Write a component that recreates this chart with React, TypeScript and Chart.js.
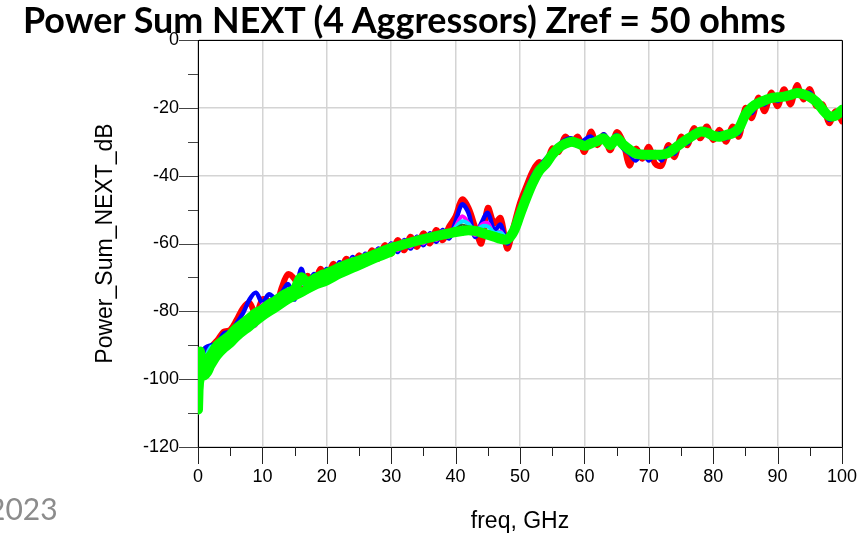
import React, { useEffect, useLayoutEffect, useRef } from "react";
import { Chart, registerables } from "chart.js";

Chart.register(...registerables);

const titleText = "Power Sum NEXT (4 Aggressors) Zref = 50 ohms";
const xTitle = "freq, GHz";
const yTitle = "Power_Sum_NEXT_dB";
const footerText = "2023";

const xMajorTicks = [0, 10, 20, 30, 40, 50, 60, 70, 80, 90, 100];
const xMinorTicks = [5, 15, 25, 35, 45, 55, 65, 75, 85, 95];
const yMajorTicks = [-120, -100, -80, -60, -40, -20, 0];
const yMinorTicks = [-110, -90, -70, -50, -30, -10];

const freq = [
  0, 0.3, 0.6,
  1, 2, 3, 4, 5, 6, 7, 8, 9, 10,
  11, 12, 13, 14, 15, 16, 17, 18, 19, 20,
  21, 22, 23, 24, 25, 26, 27, 28, 29, 30,
  31, 32, 33, 34, 35, 36, 37, 38, 39, 40,
  41, 42, 43, 44, 45, 46, 47, 48, 49, 50,
  51, 52, 53, 54, 55, 56, 57, 58, 59, 60,
  61, 62, 63, 64, 65, 66, 67, 68, 69, 70,
  71, 72, 73, 74, 75, 76, 77, 78, 79, 80,
  81, 82, 83, 84, 85, 86, 87, 88, 89, 90,
  91, 92, 93, 94, 95, 96, 97, 98, 99, 100,
];

const greenDb = [
  -109, -92, -97,
  -95, -93, -90, -88.5, -87, -85, -83.5, -82, -80.5, -79.5,
  -78, -77, -75.5, -74.5, -73.5, -70, -71.5, -70.5, -69.5, -68.8,
  -68, -67, -66.3, -65.6, -65, -64.3, -63.6, -62.8, -62, -61.3,
  -60.8, -60.2, -59.7, -59.2, -58.7, -58.3, -57.8, -57.4, -57, -56.6,
  -56.3, -56.1, -56.3, -56.8, -57.4, -58, -58.6, -58.8, -56.5, -51.5,
  -46.5, -42, -38.5, -36.5, -33.8, -31.8, -30.6, -30, -30.5, -31.2,
  -30.5, -29.8, -29, -31, -29, -30.8, -32.3, -33.5, -33.8, -33.8,
  -33.8, -33.8, -33.3, -32, -30.5, -29.2, -28, -27, -27.3, -28.2,
  -28.5, -28, -27.5, -26, -22, -19.8, -18.6, -17.8, -17.1, -16.9,
  -16.7, -16.2, -15.6, -16, -16.8, -18.2, -20.5, -22.4, -22.3, -20.6,
];

const green2Freq = [0, 0.5, 1, 1.5, 2, 3, 4, 5, 6, 8, 10, 12, 14, 16, 18, 20, 22, 25, 28, 30];
const green2Db = [-104, -99, -99, -98, -96, -93, -91, -89.5, -87.5, -84.5, -81.5, -79, -76.5, -74.5, -72.5, -71, -69, -66.5, -64, -62.5];

const redDb = [
  -100, -94, -93,
  -93, -90.5, -88.5, -86, -85.5, -82.5, -79, -77.5, -81, -76.5,
  -77, -79, -73, -69, -70.5, -74, -69.5, -72.5, -67.5, -70.5,
  -66, -68.5, -64.5, -67, -63.5, -66, -62, -64.5, -60.5, -63,
  -59, -62, -58, -61, -57, -60, -56, -59, -55, -52,
  -47, -49.5, -55, -60, -49.5, -54, -52.5, -61.5, -55, -48,
  -43, -38.5, -36, -37, -32, -33, -28.5, -30.5, -28.5, -33,
  -27, -31, -28, -32.5, -27.2, -30, -37, -32, -35, -31.5,
  -36.5, -37, -31, -34.5, -28.5, -31, -26, -29, -25.5, -29.5,
  -26.5, -30, -25.5, -28.5, -20, -23, -17, -21, -15.5, -19.5,
  -14.5, -19, -13.3, -17.5, -14.5, -19.5, -19, -24.5, -21, -24,
];

const blueDb = [
  -97, -93, -95,
  -91, -90, -89.5, -86.5, -86, -83.5, -80.5, -76.5, -74.5, -77.5,
  -75, -76, -74.5, -72, -76.5, -67.5, -72.5, -69, -71, -67.5,
  -69.5, -65.5, -68, -64, -66.5, -63, -65, -61.5, -63.5, -60,
  -62.5, -59, -61.5, -58, -60.5, -57, -59.5, -56, -58.5, -53.5,
  -48.5, -51, -58, -54, -51, -56, -54.5, -60, -56, -49.5,
  -44.5, -40, -37.5, -35, -33.5, -31, -29.5, -29, -31, -29.5,
  -28.5, -30.5, -27.8, -30, -28, -32, -33.5, -35.5, -33, -35.5,
  -33, -35.5, -32, -33.5, -29.5, -30.5, -27, -27.5, -26.5, -29,
  -27.5, -29, -26.5, -27.5, -21, -21.5, -18, -19, -16.5, -18,
  -16, -17, -15, -16.5, -15.5, -19, -20.5, -23.5, -22.5, -22,
];

const magentaDb = [
  -98, -94, -96,
  -94, -92, -89, -89, -86, -84.5, -84, -84.5, -84, -78,
  -79.5, -76, -77, -73.5, -75, -71.5, -73, -69.5, -71, -68,
  -69.5, -66, -67.5, -64.5, -66.2, -63.3, -65, -61.8, -63.2, -60.2,
  -62, -59.2, -61, -58.2, -60, -57.3, -59, -56.4, -58, -55,
  -52, -54, -57.5, -54.5, -54, -57.5, -56.5, -59.5, -56.5, -50.5,
  -45.5, -41, -38.5, -35.5, -33.2, -31.5, -30, -30.2, -30, -30.8,
  -29.5, -30.2, -28.5, -31.5, -28.5, -31.5, -32.8, -34.5, -33, -34.8,
  -33.2, -34.5, -32.5, -33, -30, -29.8, -27.5, -27.8, -26.8, -28.8,
  -28, -28.6, -27, -27, -21.5, -21, -18.2, -18.5, -16.8, -17.5,
  -16.2, -16.8, -15.2, -16.6, -16.2, -18.8, -20.8, -23, -22.6, -21.5,
];

const cyanDb = [
  -96, -93, -95.5,
  -94.5, -90.5, -90.5, -87.5, -87.5, -84, -84.5, -81, -81.5, -78.5,
  -79, -76, -76.5, -73.5, -74.5, -71.5, -72.5, -69.5, -70.5, -68,
  -68.8, -66.2, -67, -64.8, -65.8, -63.5, -64.4, -62, -62.8, -60.5,
  -61.6, -59.4, -60.5, -58.4, -59.5, -57.5, -58.6, -56.6, -57.8, -55.3,
  -53.5, -54.2, -56.5, -55, -55, -56.8, -56.8, -58.5, -55.8, -51,
  -46, -41.5, -38.8, -35.8, -33.6, -31.8, -30.4, -29.6, -30.2, -30.6,
  -30, -29.5, -28.6, -30.5, -28.6, -30.4, -32, -33.2, -33.5, -34.2,
  -33.5, -34, -33, -32.4, -30.2, -29.4, -27.8, -27.2, -27, -28.5,
  -28.2, -28.3, -27.2, -26.5, -21.8, -20.5, -18.4, -18.2, -17, -17.2,
  -16.5, -16.5, -15.4, -16.3, -16.5, -18.5, -20.7, -22.7, -22.5, -21,
];

const oliveFreq = [36, 38, 40, 41, 42, 43, 44, 46, 48];
const oliveDb = [-58, -56.5, -55.5, -54.5, -55, -55.5, -56, -57, -58];

function pts(xs: number[], ys: number[]) {
  return xs.map((x, i) => ({ x, y: ys[i] }));
}

const framePlugin = {
  id: "frameAndMinorTicks",
  beforeDatasetsDraw(chart: any) {
    const { ctx, chartArea, scales } = chart;
    const { left, right, top, bottom } = chartArea;
    const xs = scales.x;
    const ys = scales.y;
    ctx.save();
    ctx.strokeStyle = "#000";
    ctx.lineWidth = 1;
    ctx.beginPath();
    ctx.moveTo(left, Math.round(top) + 0.5);
    ctx.lineTo(Math.round(right) + 0.5, Math.round(top) + 0.5);
    ctx.lineTo(Math.round(right) + 0.5, bottom);
    ctx.stroke();
    ctx.strokeStyle = "#222";
    const line = (x1: number, y1: number, x2: number, y2: number) => {
      ctx.beginPath();
      ctx.moveTo(x1, y1);
      ctx.lineTo(x2, y2);
      ctx.stroke();
    };
    for (const v of xMajorTicks) {
      const px = Math.round(xs.getPixelForValue(v)) + 0.5;
      line(px, bottom, px, bottom + 17);
    }
    for (const v of xMinorTicks) {
      const px = Math.round(xs.getPixelForValue(v)) + 0.5;
      line(px, bottom, px, bottom + 9);
    }
    ctx.strokeStyle = "#444";
    for (const v of yMajorTicks) {
      const py = Math.round(ys.getPixelForValue(v)) + 0.5;
      line(left - 19, py, left, py);
    }
    for (const v of yMinorTicks) {
      const py = Math.round(ys.getPixelForValue(v)) + 0.5;
      line(left - 10, py, left, py);
    }
    ctx.restore();
  },
};

export default function App() {
  const canvasRef = useRef<HTMLCanvasElement | null>(null);
  const titleRef = useRef<HTMLDivElement | null>(null);

  useLayoutEffect(() => {
    const el = titleRef.current;
    if (!el) return;
    const base = 34;
    el.style.fontSize = base + "px";
    const w = el.getBoundingClientRect().width;
    const fs = (base * 763) / w;
    el.style.fontSize = fs + "px";
    el.style.top = 33 - 0.987 * fs + "px";
  }, []);

  useEffect(() => {
    const canvas = canvasRef.current;
    if (!canvas) return;
    const tickFont = { family: "'Liberation Sans', Arial, sans-serif", size: 18 };
    const titleFont = { family: "'Liberation Sans', Arial, sans-serif", size: 23 };
    const ds = (label: string, xs: number[], ys: number[], color: string, width: number) => ({
      label,
      data: pts(xs, ys),
      borderColor: color,
      backgroundColor: color,
      borderWidth: width,
      pointRadius: 0,
      fill: false,
    });
    const chart = new Chart(canvas, {
      type: "line",
      data: {
        datasets: [
          ds("green", freq, greenDb, "#00ff00", 10),
          ds("green2", green2Freq, green2Db, "#00ff00", 9),
          ds("olive", oliveFreq, oliveDb, "#2e6b2e", 2),
          ds("cyan", freq, cyanDb, "#00e5ff", 4),
          ds("magenta", freq, magentaDb, "#ff00ff", 4),
          ds("blue", freq, blueDb, "#0000ff", 4.5),
          ds("red", freq, redDb, "#ff0000", 6),
        ],
      },
      options: {
        animation: false,
        responsive: false,
        maintainAspectRatio: false,
        layout: { padding: { top: 40, right: 26, left: 0, bottom: 0 } },
        plugins: {
          legend: { display: false },
          tooltip: { enabled: false },
          title: { display: false },
        },
        elements: {
          line: { tension: 0.35, borderCapStyle: "round", borderJoinStyle: "round" },
          point: { radius: 0 },
        },
        scales: {
          x: {
            type: "linear",
            min: 0,
            max: 100,
            afterFit: (s: any) => {
              s.height = 89;
              s.paddingLeft = 0;
              s.paddingRight = 0;
            },
            ticks: {
              stepSize: 10,
              padding: 19,
              color: "#000",
              font: tickFont,
              maxRotation: 0,
              autoSkip: false,
            },
            grid: { color: "#d4d4d4", lineWidth: 1.5, drawTicks: false },
            border: { display: true, color: "#000", width: 1 },
            title: {
              display: true,
              text: xTitle,
              color: "#000",
              font: titleFont,
              padding: { top: 0, bottom: 1 },
            },
          },
          y: {
            type: "linear",
            min: -120,
            max: 0,
            afterFit: (s: any) => {
              s.width = 198;
              s.paddingTop = 0;
              s.paddingBottom = 0;
            },
            ticks: {
              stepSize: 20,
              padding: 19,
              color: "#000",
              font: tickFont,
              autoSkip: false,
            },
            grid: { color: "#d4d4d4", lineWidth: 1.5, drawTicks: false },
            border: { display: true, color: "#000", width: 1 },
            title: {
              display: true,
              text: yTitle,
              color: "#000",
              font: titleFont,
              padding: { top: 92, bottom: 0 },
            },
          },
        },
      },
      plugins: [framePlugin],
    } as any);
    return () => chart.destroy();
  }, []);

  return (
    <div
      style={{
        position: "fixed",
        left: 0,
        top: 0,
        width: 868,
        height: 536,
        background: "#fff",
        overflow: "hidden",
      }}
    >
      <canvas
        ref={canvasRef}
        width={868}
        height={536}
        style={{ position: "absolute", left: 0, top: 0, width: 868, height: 536, display: "block" }}
      />
      <div
        ref={titleRef}
        style={{
          position: "absolute",
          left: 23,
          top: 0,
          fontFamily: "Lato, 'Open Sans', sans-serif",
          fontWeight: 700,
          fontSize: 34,
          lineHeight: "normal",
          whiteSpace: "nowrap",
          color: "#000",
        }}
      >
        {titleText}
      </div>
      <div
        style={{
          position: "absolute",
          left: -12,
          top: 490,
          fontFamily: "Lato, 'Open Sans', sans-serif",
          fontSize: 30,
          lineHeight: "normal",
          whiteSpace: "nowrap",
          color: "#8c8c8c",
        }}
      >
        {footerText}
      </div>
    </div>
  );
}
